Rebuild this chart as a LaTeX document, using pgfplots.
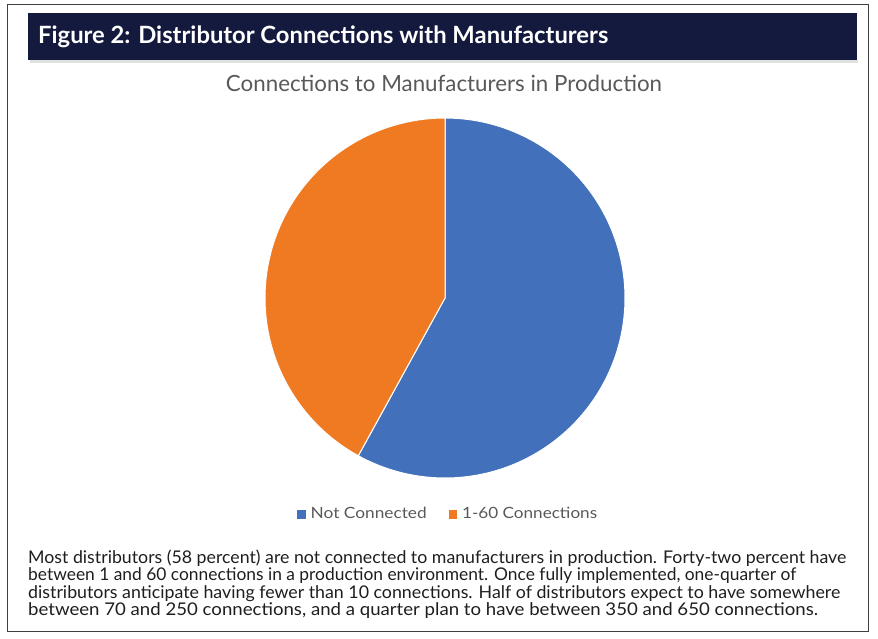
\documentclass[border=0pt]{standalone}
\usepackage{fontspec}
\setmainfont{Lato}
\usepackage{graphicx}
\usepackage{pgfplots}
\pgfplotsset{compat=1.18}
\definecolor{pieblue}{HTML}{4270BA}
\definecolor{pieorange}{HTML}{F07A22}
\definecolor{navy}{HTML}{141A3E}
\definecolor{txtgray}{HTML}{595959}
\definecolor{paratxt}{HTML}{1E1E1E}
\newcommand{\fitline}[2]{\resizebox{#1}{\height}{#2}}
\begin{document}
\begin{tikzpicture}[x=1pt,y=-1pt]
\path (0,0) rectangle (878,638);
\draw[black!75, line width=1pt] (7,4) rectangle (868,631);
\fill[black!12] (30,60) rectangle (858,62.5);
\fill[navy] (28,13) rectangle (857,60);
\node[anchor=west, inner sep=0, text=white] at (38,37)
  {\resizebox{570pt}{!}{\bfseries Figure 2: Distributor Connections with Manufacturers}};
\node[inner sep=0, text=txtgray] at (444,83)
  {\resizebox{436pt}{!}{Connections to Manufacturers in Production}};
\begin{axis}[
  at={(445pt,-298pt)}, anchor=center,
  width=360pt, height=360pt, scale only axis,
  xmin=-1, xmax=1, ymin=-1, ymax=1,
  hide axis, clip=false,
  legend style={at={(0.509,-0.1)}, anchor=center, draw=none, fill=none,
    font=\fontsize{15.5}{17}\selectfont, text=txtgray,
    /tikz/every odd column/.append style={column sep=0pt},
    /tikz/every even column/.append style={column sep=20pt}},
  legend columns=2,
  legend cell align=left,
]
% values: Not Connected 58, 1-60 Connections 42 (percent)
\addplot[forget plot, fill=pieblue, draw=white, line width=1pt, domain=0:58, samples=120, variable=\t]
  ({sin(3.6*\t)}, {cos(3.6*\t)}) -- (0,0) -- cycle;
\addplot[forget plot, fill=pieorange, draw=white, line width=1pt, domain=58:100, samples=90, variable=\t]
  ({sin(3.6*\t)}, {cos(3.6*\t)}) -- (0,0) -- cycle;
\addlegendimage{only marks, mark=square*, mark size=3.7pt, color=pieblue}
\addlegendentry{\hspace{4pt}\fitline{116pt}{Not Connected}}
\addlegendimage{only marks, mark=square*, mark size=3.7pt, color=pieorange}
\addlegendentry{\hspace{4pt}\fitline{135pt}{1-60 Connections}}
\end{axis}
\begin{scope}[every node/.style={anchor=base west, inner sep=0, text=paratxt, font=\fontsize{17.5}{20}\selectfont}]
\node at (28,563) {\fitline{818pt}{Most distributors (58 percent) are not connected to manufacturers in production. Forty-two percent have}};
\node at (28,580.5) {\fitline{768pt}{between 1 and 60 connections in a production environment. Once fully implemented, one-quarter of}};
\node at (28,598) {\fitline{812pt}{distributors anticipate having fewer than 10 connections. Half of distributors expect to have somewhere}};
\node at (28,615.5) {\fitline{790pt}{between 70 and 250 connections, and a quarter plan to have between 350 and 650 connections.}};
\end{scope}
\end{tikzpicture}
\end{document}
